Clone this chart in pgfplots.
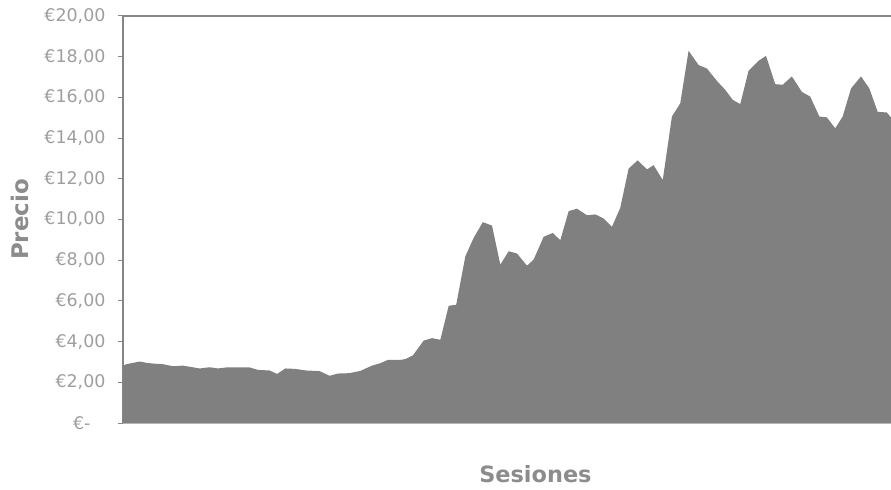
\documentclass[border=0pt]{standalone}
\usepackage{pgfplots}
\pgfplotsset{compat=1.18}
\usepackage{fontspec}
\setmainfont{DejaVu Sans}
\definecolor{areagray}{HTML}{808080}
\definecolor{axgray}{HTML}{868686}
\definecolor{botgray}{HTML}{BDBDBD}
\definecolor{labgray}{HTML}{9E9E9E}
\definecolor{titgray}{HTML}{8C8C8C}
\begin{document}
\begin{tikzpicture}
\begin{axis}[
  scale only axis, width=768bp, height=407bp,
  xmin=0, xmax=92.2, ymin=0, ymax=20,
  axis x line*=bottom, axis y line*=left,
  axis line style={-},
  x axis line style={draw=botgray, line width=1.2bp},
  y axis line style={draw=axgray, line width=1.4bp},
  xtick=\empty,
  ytick={0,2,...,20},
  yticklabels={{€-\kern15bp},{€2,00},{€4,00},{€6,00},{€8,00},{€10,00},{€12,00},{€14,00},{€16,00},{€18,00},{€20,00}},
  tick align=outside, major tick length=5bp,
  ytick style={draw=axgray, line width=1bp},
  yticklabel style={font=\fontsize{17.5}{20}\selectfont, text=labgray, xshift=-9bp},
  every axis y label/.style={at={(axis description cs:-0.134,0.5)}, rotate=90, anchor=center, inner sep=0pt, font=\bfseries\fontsize{23}{27}\selectfont, text=titgray},
  every axis x label/.style={at={(axis description cs:0.537,-0.126)}, anchor=center, inner sep=0pt, font=\bfseries\fontsize{22.5}{26}\selectfont, text=titgray},
  xlabel={Sesiones}, ylabel={Precio},
]
\addplot[fill=areagray, draw=none] coordinates {
(0.0,2.82) (0.4,2.89) (2.0,3.02) (2.8,2.96) (3.6,2.92) (4.8,2.89) (6.0,2.79) (7.2,2.82)
(9.2,2.68) (10.4,2.74) (11.4,2.68) (12.4,2.73) (15.2,2.73) (16.2,2.61) (17.6,2.58) (18.5,2.41)
(19.5,2.68) (20.6,2.66) (22.0,2.58) (23.6,2.55) (24.8,2.32) (25.8,2.43) (27.2,2.45) (28.5,2.56)
(29.9,2.82) (30.9,2.94) (31.8,3.10) (33.3,3.10) (33.9,3.14) (34.8,3.32) (36.1,4.05) (37.1,4.17)
(38.1,4.09) (39.1,5.76) (40.0,5.81) (41.1,8.19) (42.1,9.10) (43.2,9.87) (44.3,9.70) (45.3,7.78)
(46.3,8.44) (47.3,8.33) (48.5,7.73) (49.3,8.03) (50.5,9.15) (51.6,9.34) (52.5,8.98) (53.5,10.41)
(54.5,10.53) (55.7,10.21) (56.7,10.25) (57.7,10.05) (58.7,9.64) (59.7,10.58) (60.7,12.50) (61.8,12.91)
(62.9,12.46) (63.7,12.67) (64.8,11.94) (65.9,15.06) (66.9,15.71) (67.9,18.29) (69.1,17.59) (70.1,17.42)
(71.3,16.81) (72.3,16.37) (73.2,15.88) (74.1,15.67) (75.1,17.31) (76.3,17.80) (77.2,18.04) (78.3,16.65)
(79.2,16.62) (80.3,17.03) (81.5,16.27) (82.5,16.04) (83.6,15.06) (84.5,15.02) (85.5,14.48) (86.4,15.06)
(87.4,16.44) (88.6,17.03) (89.6,16.44) (90.6,15.29) (91.7,15.26) (92.2,15.01)
} \closedcycle;
\draw[axgray, line width=1.4bp] (rel axis cs:0,1) -- (rel axis cs:1,1);
\coordinate (BL) at (rel axis cs:0,0);
\coordinate (TR) at (rel axis cs:1,1);
\end{axis}
\pgfresetboundingbox
\path[use as bounding box] ([shift={(-123bp,-67bp)}]BL) rectangle ([shift={(0bp,16bp)}]TR);
\end{tikzpicture}
\end{document}
